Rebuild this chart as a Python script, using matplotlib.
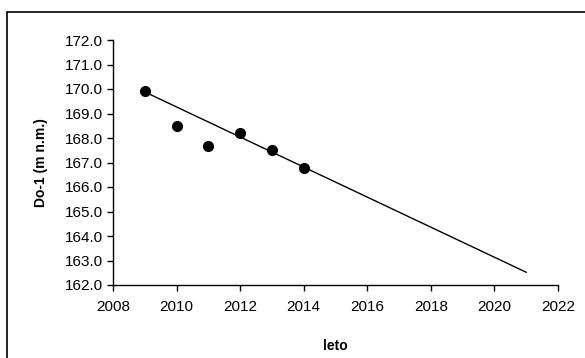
import matplotlib.pyplot as plt
from matplotlib.patches import Rectangle

# podatki
years = [2009, 2010, 2011, 2012, 2013, 2014]
levels = [169.92, 168.50, 167.69, 168.19, 167.50, 166.78]

# trendna črta (konca)
trend_years = [2009, 2021]
trend_levels = [169.88, 162.52]

plt.rcParams['font.family'] = ['Liberation Sans', 'DejaVu Sans']

fig = plt.figure(figsize=(5.85, 3.58), dpi=100)

# okvir okoli grafa
fig.patches.append(Rectangle((7 / 585, -0.05), 1.0, 1 - 12 / 358 + 0.05,
                             transform=fig.transFigure, fill=False,
                             edgecolor='black', linewidth=1.2))

ax = fig.add_axes([113 / 585, 73 / 358, 445 / 585, 245 / 358])
ax.plot(trend_years, trend_levels, color='black', linewidth=1.0)
ax.plot(years, levels, 'o', color='black', markersize=7)

ax.set_xlim(2008, 2022)
ax.set_ylim(162, 172)
ax.set_xticks(range(2008, 2023, 2))
ax.set_yticks(range(162, 173))
ax.yaxis.set_major_formatter(plt.FormatStrFormatter('%.1f'))

for s in ['top', 'right']:
    ax.spines[s].set_visible(False)
for s in ['left', 'bottom']:
    ax.spines[s].set_linewidth(1.0)
ax.tick_params(direction='out', length=4, width=1, labelsize=11, colors='black')
ax.tick_params(axis='x', pad=7)

ax.set_xlabel('leto', fontsize=10, fontweight='bold', labelpad=18)
ax.set_ylabel('Do-1 (m n.m.)', fontsize=10, fontweight='bold', labelpad=12)

plt.savefig('out.png', dpi=100)
